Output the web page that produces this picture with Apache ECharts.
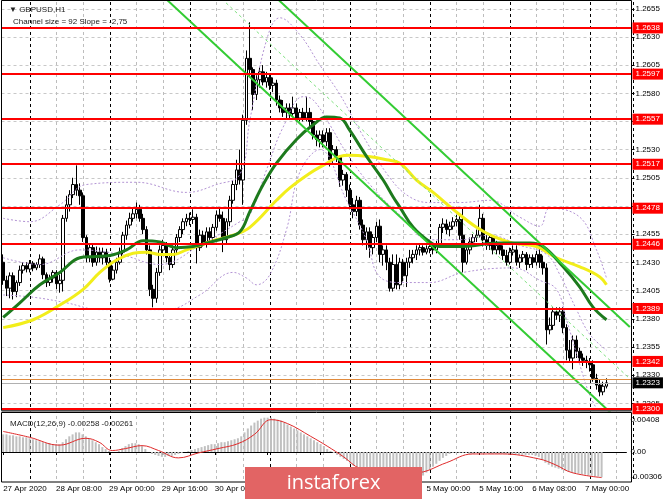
<!DOCTYPE html>
<html><head><meta charset="utf-8">
<script src="https://cdn.jsdelivr.net/npm/echarts/dist/echarts.min.js"></script>
<style>html,body{margin:0;padding:0;background:#fff}#c{width:665px;height:499px}</style>
</head><body><div id="c"></div>
<script>
// ---------- DATA ----------
const opens = [1.2430,1.2414,1.2407,1.2418,1.2404,1.2412,1.2423,1.2427,1.2424,1.2429,
1.2425,1.2428,1.2433,1.2419,1.2412,1.2416,1.2421,1.2411,1.2414,1.2469,
1.2481,1.2490,1.2499,1.2494,1.2489,1.2452,1.2434,1.2443,1.2430,1.2439,
1.2434,1.2439,1.2430,1.2415,1.2423,1.2430,1.2439,1.2454,1.2463,1.2469,
1.2473,1.2477,1.2469,1.2459,1.2441,1.2406,1.2398,1.2421,1.2441,1.2445,
1.2434,1.2428,1.2441,1.2452,1.2459,1.2466,1.2469,1.2468,1.2470,1.2443,
1.2454,1.2448,1.2457,1.2452,1.2461,1.2472,1.2469,1.2450,1.2466,1.2485,
1.2499,1.2512,1.2503,1.2556,1.2611,1.2601,1.2579,1.2592,1.2599,1.2590,
1.2594,1.2587,1.2589,1.2574,1.2567,1.2563,1.2567,1.2562,1.2567,1.2558,
1.2563,1.2558,1.2563,1.2555,1.2543,1.2539,1.2543,1.2537,1.2545,1.2521,
1.2530,1.2523,1.2503,1.2508,1.2494,1.2481,1.2475,1.2485,1.2463,1.2450,
1.2457,1.2443,1.2452,1.2462,1.2437,1.2441,1.2430,1.2407,1.2428,1.2410,
1.2430,1.2418,1.2430,1.2434,1.2437,1.2441,1.2443,1.2439,1.2442,1.2444,
1.2441,1.2445,1.2461,1.2464,1.2459,1.2462,1.2466,1.2468,1.2454,1.2430,
1.2441,1.2448,1.2452,1.2454,1.2469,1.2450,1.2445,1.2452,1.2441,1.2445,
1.2441,1.2436,1.2430,1.2439,1.2441,1.2430,1.2434,1.2437,1.2428,1.2434,
1.2430,1.2437,1.2430,1.2425,1.2370,1.2374,1.2386,1.2383,1.2386,1.2372,
1.2352,1.2345,1.2361,1.2351,1.2345,1.2343,1.2342,1.2339,1.2327,1.2321,
1.2315,1.2320];
const closes = [1.2414,1.2407,1.2418,1.2404,1.2412,1.2423,1.2427,1.2424,1.2429,1.2425,
1.2428,1.2433,1.2419,1.2412,1.2416,1.2421,1.2411,1.2414,1.2469,1.2481,
1.2490,1.2499,1.2494,1.2489,1.2452,1.2434,1.2443,1.2430,1.2439,1.2434,
1.2439,1.2430,1.2415,1.2423,1.2430,1.2439,1.2454,1.2463,1.2469,1.2473,
1.2477,1.2469,1.2459,1.2441,1.2406,1.2398,1.2421,1.2441,1.2445,1.2434,
1.2428,1.2441,1.2452,1.2459,1.2466,1.2469,1.2468,1.2470,1.2443,1.2454,
1.2448,1.2457,1.2452,1.2461,1.2472,1.2469,1.2450,1.2466,1.2485,1.2499,
1.2512,1.2503,1.2556,1.2611,1.2601,1.2579,1.2592,1.2599,1.2590,1.2594,
1.2587,1.2589,1.2574,1.2567,1.2563,1.2567,1.2562,1.2567,1.2558,1.2563,
1.2558,1.2563,1.2555,1.2543,1.2539,1.2543,1.2537,1.2545,1.2521,1.2530,
1.2523,1.2503,1.2508,1.2494,1.2481,1.2475,1.2485,1.2463,1.2450,1.2457,
1.2443,1.2452,1.2462,1.2437,1.2441,1.2430,1.2407,1.2428,1.2410,1.2430,
1.2418,1.2430,1.2434,1.2437,1.2441,1.2443,1.2439,1.2442,1.2444,1.2441,
1.2445,1.2461,1.2464,1.2459,1.2462,1.2466,1.2468,1.2454,1.2430,1.2441,
1.2448,1.2452,1.2454,1.2469,1.2450,1.2445,1.2452,1.2441,1.2445,1.2441,
1.2436,1.2430,1.2439,1.2441,1.2430,1.2434,1.2437,1.2428,1.2434,1.2430,
1.2437,1.2430,1.2425,1.2370,1.2374,1.2386,1.2383,1.2386,1.2372,1.2352,
1.2345,1.2361,1.2351,1.2345,1.2343,1.2342,1.2339,1.2327,1.2321,1.2315,
1.2320,1.2323];
const highs = [1.2437,1.2418,1.2421,1.2421,1.2414,1.2427,1.2430,1.2430,1.2432,1.2431,
1.2430,1.2437,1.2435,1.2421,1.2419,1.2423,1.2423,1.2419,1.2472,1.2489,
1.2494,1.2505,1.2516,1.2500,1.2492,1.2454,1.2446,1.2447,1.2444,1.2443,
1.2443,1.2442,1.2434,1.2427,1.2434,1.2443,1.2457,1.2467,1.2474,1.2478,
1.2483,1.2481,1.2473,1.2462,1.2445,1.2410,1.2425,1.2445,1.2450,1.2448,
1.2437,1.2445,1.2455,1.2462,1.2469,1.2473,1.2474,1.2477,1.2473,1.2459,
1.2458,1.2461,1.2461,1.2464,1.2476,1.2478,1.2475,1.2469,1.2489,1.2503,
1.2521,1.2530,1.2561,1.2618,1.2643,1.2603,1.2596,1.2603,1.2605,1.2599,
1.2597,1.2594,1.2592,1.2578,1.2574,1.2571,1.2571,1.2577,1.2571,1.2566,
1.2567,1.2577,1.2567,1.2558,1.2547,1.2547,1.2547,1.2549,1.2549,1.2534,
1.2533,1.2525,1.2512,1.2510,1.2499,1.2487,1.2489,1.2488,1.2468,1.2461,
1.2461,1.2455,1.2466,1.2468,1.2445,1.2445,1.2434,1.2437,1.2437,1.2434,
1.2433,1.2434,1.2441,1.2441,1.2445,1.2446,1.2445,1.2445,1.2447,1.2446,
1.2449,1.2464,1.2469,1.2468,1.2466,1.2470,1.2472,1.2471,1.2478,1.2445,
1.2452,1.2455,1.2459,1.2481,1.2473,1.2454,1.2455,1.2454,1.2449,1.2448,
1.2445,1.2441,1.2443,1.2445,1.2445,1.2437,1.2440,1.2439,1.2437,1.2437,
1.2440,1.2447,1.2436,1.2429,1.2381,1.2390,1.2390,1.2390,1.2390,1.2375,
1.2361,1.2365,1.2365,1.2354,1.2349,1.2347,1.2345,1.2343,1.2331,1.2326,
1.2324,1.2327];
const lows = [1.2410,1.2400,1.2398,1.2397,1.2399,1.2409,1.2420,1.2421,1.2421,1.2422,
1.2423,1.2425,1.2415,1.2408,1.2409,1.2412,1.2406,1.2403,1.2404,1.2466,
1.2475,1.2487,1.2489,1.2481,1.2448,1.2430,1.2430,1.2426,1.2427,1.2430,
1.2428,1.2427,1.2412,1.2414,1.2420,1.2428,1.2437,1.2450,1.2460,1.2466,
1.2469,1.2466,1.2455,1.2437,1.2400,1.2390,1.2394,1.2418,1.2436,1.2430,
1.2423,1.2425,1.2438,1.2448,1.2455,1.2462,1.2463,1.2464,1.2429,1.2440,
1.2444,1.2443,1.2448,1.2449,1.2458,1.2466,1.2439,1.2446,1.2462,1.2482,
1.2494,1.2499,1.2481,1.2552,1.2594,1.2565,1.2574,1.2585,1.2587,1.2585,
1.2583,1.2581,1.2569,1.2563,1.2559,1.2558,1.2558,1.2560,1.2555,1.2555,
1.2555,1.2555,1.2551,1.2539,1.2533,1.2532,1.2532,1.2533,1.2515,1.2517,
1.2519,1.2497,1.2498,1.2488,1.2477,1.2469,1.2471,1.2459,1.2445,1.2441,
1.2434,1.2437,1.2448,1.2430,1.2427,1.2423,1.2404,1.2404,1.2406,1.2406,
1.2413,1.2408,1.2425,1.2429,1.2432,1.2436,1.2436,1.2437,1.2438,1.2437,
1.2438,1.2443,1.2456,1.2455,1.2453,1.2459,1.2462,1.2450,1.2421,1.2428,
1.2437,1.2445,1.2448,1.2452,1.2444,1.2441,1.2441,1.2437,1.2437,1.2437,
1.2432,1.2427,1.2428,1.2436,1.2427,1.2425,1.2430,1.2423,1.2425,1.2425,
1.2427,1.2425,1.2419,1.2357,1.2366,1.2370,1.2379,1.2377,1.2367,1.2343,
1.2342,1.2335,1.2345,1.2341,1.2338,1.2336,1.2333,1.2324,1.2317,1.2311,
1.2312,1.2318];

// moving averages: [bar index, price]
const maGreen = [[0,1.2381],[5,1.2394],[11,1.2410],[17,1.2421],[23,1.2434],[27,1.2435],[32,1.2436],[37,1.2441],[42,1.2449],[47,1.2448],[52,1.2443],[57,1.2444],[61,1.2447],[67,1.2452],[71,1.2457],[74,1.2475],[78,1.2499],[82,1.2518],[88,1.2539],[93,1.2552],[97,1.2559],[101,1.2558],[104,1.2547],[109,1.2524],[114,1.2503],[117,1.2488],[119,1.2479],[123,1.2461],[128,1.2448],[131,1.2444],[138,1.2444],[148,1.2447],[158,1.2447],[162,1.2444],[168,1.2426],[173,1.2408],[177,1.2390],[181,1.2379]];
const maYellow = [[0,1.2372],[9,1.2379],[17,1.2392],[24,1.2406],[29,1.2421],[34,1.2432],[39,1.2438],[43,1.2439],[47,1.2437],[51,1.2437],[55,1.2441],[59,1.2445],[64,1.2450],[69,1.2454],[74,1.2461],[82,1.2485],[86,1.2496],[92,1.2509],[96,1.2516],[101,1.2524],[104,1.2525],[109,1.2524],[115,1.2521],[119,1.2518],[124,1.2503],[129,1.2492],[135,1.2477],[142,1.2461],[147,1.2453],[153,1.2447],[160,1.2444],[166,1.2434],[173,1.2426],[179,1.2417],[181,1.2410]];
const bbUpper = [[0,1.2469],[8,1.2466],[17,1.2481],[25,1.2499],[40,1.2501],[55,1.2492],[64,1.2499],[71,1.2508],[74,1.2556],[79,1.2627],[83,1.2647],[89,1.2632],[95,1.2605],[101,1.2579],[107,1.2547],[116,1.2505],[122,1.2488],[128,1.2483],[137,1.2483],[146,1.2485],[155,1.2470],[161,1.2462],[164,1.2478],[173,1.2470],[178,1.2441],[181,1.2416]];
const bbMiddle = [[0,1.2434],[11,1.2428],[23,1.2441],[35,1.2437],[47,1.2428],[59,1.2445],[71,1.2466],[74,1.2472],[79,1.2512],[84,1.2550],[90,1.2577],[93,1.2574],[98,1.2552],[103,1.2527],[110,1.2499],[119,1.2472],[128,1.2450],[137,1.2450],[146,1.2454],[155,1.2445],[163,1.2437],[167,1.2419],[172,1.2388],[176,1.2366],[181,1.2352]];
const bbLower = [[0,1.2401],[9,1.2399],[19,1.2394],[29,1.2388],[49,1.2388],[59,1.2401],[69,1.2421],[73,1.2416],[76,1.2410],[80,1.2419],[85,1.2459],[89,1.2510],[95,1.2530],[103,1.2485],[109,1.2450],[113,1.2417],[120,1.2412],[128,1.2412],[138,1.2421],[153,1.2425],[161,1.2414],[166,1.2406],[169,1.2379],[173,1.2339],[176,1.2312],[179,1.2295]];

// trend channel (end points, bar index / price)
const channelUpper = [[70,1.26976],[188,1.23726]];
const channelLower = [[40,1.26881],[188,1.22806]];
const channelMiddle = [[55,1.26929],[188,1.23266]];

// support / resistance levels
const levels = [1.2638,1.2597,1.2557,1.2517,1.2478,1.2446,1.2389,1.2342,1.2300];
const bidPrice = 1.2323;
const askPrice = 1.2326;

// MACD histogram (main) and signal
const macdMain = [0.0018,0.0018,0.0017,0.0017,0.0016,0.0016,0.0015,0.0015,0.0014,
0.0013,0.0012,0.0011,0.0010,0.0009,0.0009,0.0008,0.0008,0.0008,
0.0010,0.0013,0.0016,0.0018,0.0020,0.0020,
0.0018,0.0016,0.0014,0.0012,0.0010,0.0008,0.0005,
0.0003,0.0001,0.0000,0.0000,0.0001,
0.0004,0.0006,0.0008,0.0009,0.0009,0.0008,0.0006,0.0003,0.0000,
-0.0002,-0.0003,-0.0004,-0.0005,-0.0005,-0.0004,-0.0004,-0.0003,
-0.0002,-0.0001,0.0000,0.0001,0.0002,0.0003,0.0004,0.0005,
0.0006,0.0007,0.0008,0.0008,0.0009,0.0010,0.0010,0.0011,0.0012,
0.0013,0.0014,0.0016,
0.0020,0.0024,0.0027,0.0030,0.0032,0.0034,0.0035,0.0035,
0.0035,0.0034,0.0033,0.0032,0.0030,0.0028,
0.0026,0.0024,0.0022,0.0020,0.0018,0.0016,0.0014,0.0012,0.0010,0.0008,0.0006,0.0003,0.0001,
-0.0001,-0.0003,-0.0005,-0.0007,-0.0009,-0.0012,
-0.0014,-0.0016,-0.0018,-0.0020,-0.0022,-0.0024,-0.0025,-0.0026,-0.0027,-0.0028,
-0.0029,-0.0030,-0.0030,-0.0030,-0.0030,-0.0030,-0.0030,-0.0029,-0.0029,-0.0028,
-0.0027,-0.0024,-0.0021,-0.0018,-0.0015,-0.0012,-0.0009,-0.0006,-0.0004,-0.0002,-0.0001,
-0.0001,-0.0001,-0.0001,-0.0001,-0.0002,-0.0002,-0.0001,-0.0001,-0.0001,-0.0001,-0.0002,-0.0002,
-0.0002,-0.0002,-0.0002,-0.0002,-0.0003,-0.0003,-0.0003,-0.0003,-0.0003,-0.0003,-0.0003,-0.0003,
-0.0004,-0.0005,-0.0008,-0.0011,-0.0013,-0.0015,-0.0016,-0.0017,
-0.0018,-0.0019,-0.0020,-0.0021,-0.0022,-0.0022,-0.0023,-0.0023,-0.0024,-0.0024,-0.0025,-0.0025,-0.00258];
const macdSignal = [[0,0.0021],[8,0.0015],[17,0.0007],[25,0.0014],[29,0.0010],[33,0.00015],[37,0.00035],[42,0.00065],[47,0.00015],[53,-0.0006],[59,-0.0001],[65,0.00035],[71,0.00085],[76,0.0018],[81,0.0033],[86,0.0029],[93,0.0016],[98,0.0006],[103,-0.0005],[108,-0.0017],[117,-0.0023],[126,-0.0021],[134,-0.0011],[142,-0.0002],[151,-0.0002],[162,-0.0007],[167,-0.0013],[172,-0.0021],[181,-0.00261]];

const xTickLabels = ['27 Apr 2020','28 Apr 08:00','29 Apr 00:00','29 Apr 16:00','30 Apr 08:00','1 May 00:00','1 May 16:00','4 May 08:00','5 May 00:00','5 May 16:00','6 May 08:00','7 May 00:00'];
const SLOTS = 189;
const categories = Array.from({length: SLOTS}, (_, i) => String(i));

// ---------- CHART ----------
const FONT = 'Liberation Sans';
const chart = echarts.init(document.getElementById('c'), null, {renderer: 'canvas'});
const candleData = opens.map((o, i) => [o, closes[i], lows[i], highs[i]]);

const hiddenCat = (grid) => ({type:'category', gridIndex: grid, data: categories, boundaryGap: true,
  axisLine:{show:false}, axisTick:{show:false}, axisLabel:{show:false}, splitLine:{show:false}});

const levelMarks = levels.map(v => ({yAxis: v}));
levelMarks.push({yAxis: askPrice, lineStyle:{color:'#e08a3c', width:1}, label:{show:false}});
levelMarks.push({yAxis: bidPrice, lineStyle:{color:'#b0b0b0', width:1}, label:{backgroundColor:'#000', color:'#fff'}});

const option = {
  animation: false,
  backgroundColor: '#fff',
  textStyle: {fontFamily: FONT},
  title: [
    {text: '\u25BC GBPUSD,H1', left: 4, top: 1, textStyle:{fontSize: 8, fontWeight:'normal', color:'#222', fontFamily: FONT}},
    {text: 'Channel size = 92 Slope = -2,75', left: 8, top: 13, textStyle:{fontSize: 8, fontWeight:'normal', color:'#222', fontFamily: FONT}},
    {text: 'MACD(12,26,9) -0.00258 -0.00261', left: 5, top: 415, textStyle:{fontSize: 8, fontWeight:'normal', color:'#222', fontFamily: FONT}}
  ],
  grid: [
    {left: 1.5, top: 2, width: 630, height: 409},
    {left: 1.5, top: 8.84, width: 630, height: 394.5},
    {left: 1.5, top: 412, width: 630, height: 70},
    {left: 3.17, top: 2, width: 630, height: 480}
  ],
  xAxis: [
    hiddenCat(0),
    hiddenCat(1),
    {type:'category', gridIndex: 2, data: categories, boundaryGap: true,
      axisLine:{show:true, lineStyle:{color:'#000'}},
      axisTick:{show:true, alignWithLabel:true, interval:(i)=> i % 16 === 0, length: 3, lineStyle:{color:'#000'}},
      axisLabel:{show:true, interval:(i)=> i % 16 === 0, align:'left', margin: 3, fontSize: 8, color:'#000', fontFamily: FONT,
        formatter:(v, i)=> xTickLabels[i/16] || ''},
      splitLine:{show:false}},
    {type:'category', gridIndex: 3, data: categories, boundaryGap: true,
      axisLine:{show:false}, axisTick:{show:false}, axisLabel:{show:false},
      splitLine:{show:true, interval:(i)=> i > 0 && i % 8 === 0 && (i - 8) % 24 !== 0,
        lineStyle:{color:'#bdbdbd', type:[3,3], width:1}}},
    {type:'category', gridIndex: 3, data: categories, boundaryGap: true,
      axisLine:{show:false}, axisTick:{show:false}, axisLabel:{show:false},
      splitLine:{show:true, interval:(i)=> i > 0 && (i - 8) % 24 === 0,
        lineStyle:{color:'#000', type:[3,3], width:1}}}
  ],
  yAxis: [
    {type:'value', gridIndex: 0, min: 1.2298, max: 1.2661, scale: true,
      axisLine:{show:false}, axisTick:{show:false}, axisLabel:{show:false}, splitLine:{show:false}},
    {type:'value', gridIndex: 1, position:'right', min: 1.2305, max: 1.2655, interval: 0.0025,
      axisLine:{show:false}, axisTick:{show:true, length:3, lineStyle:{color:'#000'}},
      axisLabel:{show:true, margin: 4, fontSize: 8, color:'#000', fontFamily: FONT, showMinLabel:true, showMaxLabel:true,
        formatter:(v)=> v.toFixed(4)},
      splitLine:{show:true, lineStyle:{color:'#c8c8c8', type:[3,3], width:1}}},
    {type:'value', gridIndex: 2, position:'right', min: -0.00306, max: 0.00408, interval: 0.00306,
      axisLine:{show:false}, axisTick:{show:false},
      axisLabel:{show:true, margin: 4, fontSize: 8, color:'#000', fontFamily: FONT, showMinLabel:true, showMaxLabel:true,
        formatter:(v)=> Math.abs(v) < 1e-9 ? '0.00' : (v > 0.004 ? '{t|0.00408}' : (v < -0.003 ? '{b|-0.00306}' : '')),
        rich:{t:{fontSize:8, fontFamily: FONT, color:'#000', padding:[15,0,0,0]}, b:{fontSize:8, fontFamily: FONT, color:'#000', padding:[0,0,10,0]}}},
      splitLine:{show:false}},
    {type:'value', gridIndex: 3, min: 0, max: 1, axisLine:{show:false}, axisTick:{show:false}, axisLabel:{show:false}, splitLine:{show:false}}
  ],
  series: [
    {type:'candlestick', name:'GBPUSD', xAxisIndex:0, yAxisIndex:0, data: candleData, barWidth: 3,
      itemStyle:{color:'#ffffff', color0:'#000000', borderColor:'#000000', borderColor0:'#000000', borderWidth:1},
      markLine:{silent:true, symbol:['none','none'], animation:false, precision: 4,
        lineStyle:{color:'#ff0000', width:2, type:'solid'},
        label:{show:true, position:'end', distance:1, formatter:(p)=> Number(p.value).toFixed(4), color:'#fff',
          backgroundColor:'#ff0000', padding:[2,3,1,3], fontSize:8, fontFamily: FONT},
        data: levelMarks}},
    {type:'line', name:'BB upper', xAxisIndex:0, yAxisIndex:0, data: bbUpper, showSymbol:false, smooth:0.4,
      lineStyle:{color:'#b394d4', width:1, type:[2,2]}},
    {type:'line', name:'BB middle', xAxisIndex:0, yAxisIndex:0, data: bbMiddle, showSymbol:false, smooth:0.4,
      lineStyle:{color:'#b394d4', width:1, type:[2,2]}},
    {type:'line', name:'BB lower', xAxisIndex:0, yAxisIndex:0, data: bbLower, showSymbol:false, smooth:0.4,
      lineStyle:{color:'#b394d4', width:1, type:[2,2]}},
    {type:'line', name:'MA slow', xAxisIndex:0, yAxisIndex:0, data: maYellow, showSymbol:false, smooth:0.4,
      lineStyle:{color:'#f2ee1a', width:3}},
    {type:'line', name:'MA fast', xAxisIndex:0, yAxisIndex:0, data: maGreen, showSymbol:false, smooth:0.4,
      lineStyle:{color:'#1d7a1d', width:3}},
    {type:'line', name:'Channel mid', xAxisIndex:0, yAxisIndex:0, data: channelMiddle, showSymbol:false, clip:true,
      lineStyle:{color:'#7fe07f', width:1, type:[3,3]}},
    {type:'line', name:'Channel upper', xAxisIndex:0, yAxisIndex:0, data: channelUpper, showSymbol:false, clip:true,
      lineStyle:{color:'#33cc33', width:2}},
    {type:'line', name:'Channel lower', xAxisIndex:0, yAxisIndex:0, data: channelLower, showSymbol:false, clip:true,
      lineStyle:{color:'#33cc33', width:2}},
    {type:'bar', name:'MACD', xAxisIndex:2, yAxisIndex:2, data: macdMain, barWidth: 2,
      itemStyle:{color:'#c0c0c0'}},
    {type:'line', name:'Signal', xAxisIndex:2, yAxisIndex:2, data: macdSignal, showSymbol:false, smooth:0.4,
      lineStyle:{color:'#e02a2a', width:1}}
  ],
  graphic: [
    {type:'rect', silent:true, z:50, shape:{x:1.5, y:0.5, width:630, height:410}, style:{fill:'none', stroke:'#000', lineWidth:1}},
    {type:'line', silent:true, z:50, shape:{x1:1.5, y1:411, x2:631.5, y2:411}, style:{stroke:'#666', lineWidth:1.5}},
    {type:'rect', silent:true, z:50, shape:{x:1.5, y:412.5, width:630, height:69.5}, style:{fill:'none', stroke:'#000', lineWidth:1}},
    {type:'rect', silent:true, z:60, shape:{x:245, y:467, width:177, height:32}, style:{fill:'#e26464'}},
    {type:'text', silent:true, z:61, style:{text:'instaforex', x:333.5, y:483, textAlign:'center', textVerticalAlign:'middle',
      fill:'#ffffff', font:'20px "Open Sans"'}}
  ]
};
chart.setOption(option);
</script>
</body></html>
